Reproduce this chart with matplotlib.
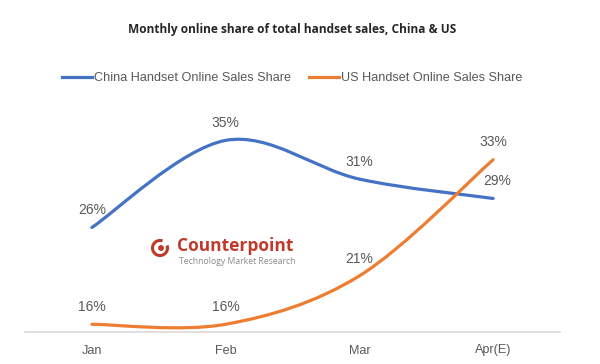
import matplotlib.pyplot as plt
import numpy as np
from matplotlib.path import Path
from matplotlib.patches import PathPatch, Arc, Circle

months = ['Jan', 'Feb', 'Mar', 'Apr(E)']
china = [26, 35, 31, 29]
us = [16, 16, 21, 33]

BLUE = '#4472C4'
ORANGE = '#ED7D31'
GRAY = '#595959'


def smooth_path(xs, ys):
    # Excel style smoothed line: cubic bezier with catmull-rom tangents
    pts = np.column_stack([xs, ys]).astype(float)
    n = len(pts)
    verts = [pts[0]]
    codes = [Path.MOVETO]
    for i in range(n - 1):
        p0 = pts[i - 1] if i > 0 else pts[i]
        p1 = pts[i]
        p2 = pts[i + 1]
        p3 = pts[i + 2] if i + 2 < n else pts[i + 1]
        c1 = p1 + (p2 - p0) / 6
        c2 = p2 - (p3 - p1) / 6
        verts += [c1, c2, p2]
        codes += [Path.CURVE4] * 3
    return Path(verts, codes)


fig = plt.figure(figsize=(6, 3.64), dpi=100)
plt.rcParams['font.family'] = ['Liberation Sans', 'DejaVu Sans']
ax = fig.add_axes([25 / 600, 1 - 332 / 364, 535 / 600, 240 / 364])
x = np.arange(len(months))

for vals, col in [(china, BLUE), (us, ORANGE)]:
    ax.add_patch(PathPatch(smooth_path(x, vals), facecolor='none', edgecolor=col,
                           lw=2.3, capstyle='round', zorder=3))

ax.plot([], [], color=BLUE, lw=2.3, label='China Handset Online Sales Share')
ax.plot([], [], color=ORANGE, lw=2.3, label='US Handset Online Sales Share')

for i, v in enumerate(china):
    dx = 3 if i == 3 else 0
    ax.annotate(f'{v}%', (x[i], v), xytext=(dx, 12.5), textcoords='offset points',
                ha='center', va='center', fontsize=10, color=GRAY)
for i, v in enumerate(us):
    ax.annotate(f'{v}%', (x[i], v), xytext=(0, 12.5), textcoords='offset points',
                ha='center', va='center', fontsize=10, color=GRAY)

ax.set_xlim(-0.5, 3.5)
ax.set_ylim(15.2, 40)
ax.set_xticks(x)
ax.set_xticklabels(months, fontsize=9.1, color=GRAY)
ax.tick_params(axis='x', length=0, pad=9)
ax.set_yticks([])
for s in ['top', 'right', 'left']:
    ax.spines[s].set_visible(False)
ax.spines['bottom'].set_color('#d9d9d9')
ax.spines['bottom'].set_linewidth(1.2)
ax.set_facecolor('none')

fig.text(292 / 600, 1 - 30 / 364, 'Monthly online share of total handset sales, China & US',
         ha='center', va='center', fontsize=8.6, fontweight='bold', color='#262626',
         family=['Open Sans', 'DejaVu Sans'])

fig.legend(loc='center', bbox_to_anchor=(292 / 600, 1 - 78 / 364), ncol=2, frameon=False,
           fontsize=9.1, handlelength=2.4, handletextpad=0.15, columnspacing=1.4,
           labelcolor=GRAY)

# Counterpoint watermark
logo_red = '#c0392b'
fig.patches.append(Arc((160, 364 - 248), 15, 15, theta1=70, theta2=380, lw=2.2,
                       color=logo_red, transform=None))
fig.patches.append(Circle((161, 364 - 248), 2.2, color=logo_red, transform=None))
fig.text(177 / 600, 1 - 246 / 364, 'Counterpoint', ha='left', va='center', fontsize=12.5,
         fontweight='bold', color=logo_red, family=['Open Sans', 'DejaVu Sans'])
fig.text(179 / 600, 1 - 262 / 364, 'Technology Market Research', ha='left', va='center',
         fontsize=6.2, color='#8a8a8a', family=['Open Sans', 'DejaVu Sans'])

fig.savefig('out.png', dpi=100, facecolor='white')
